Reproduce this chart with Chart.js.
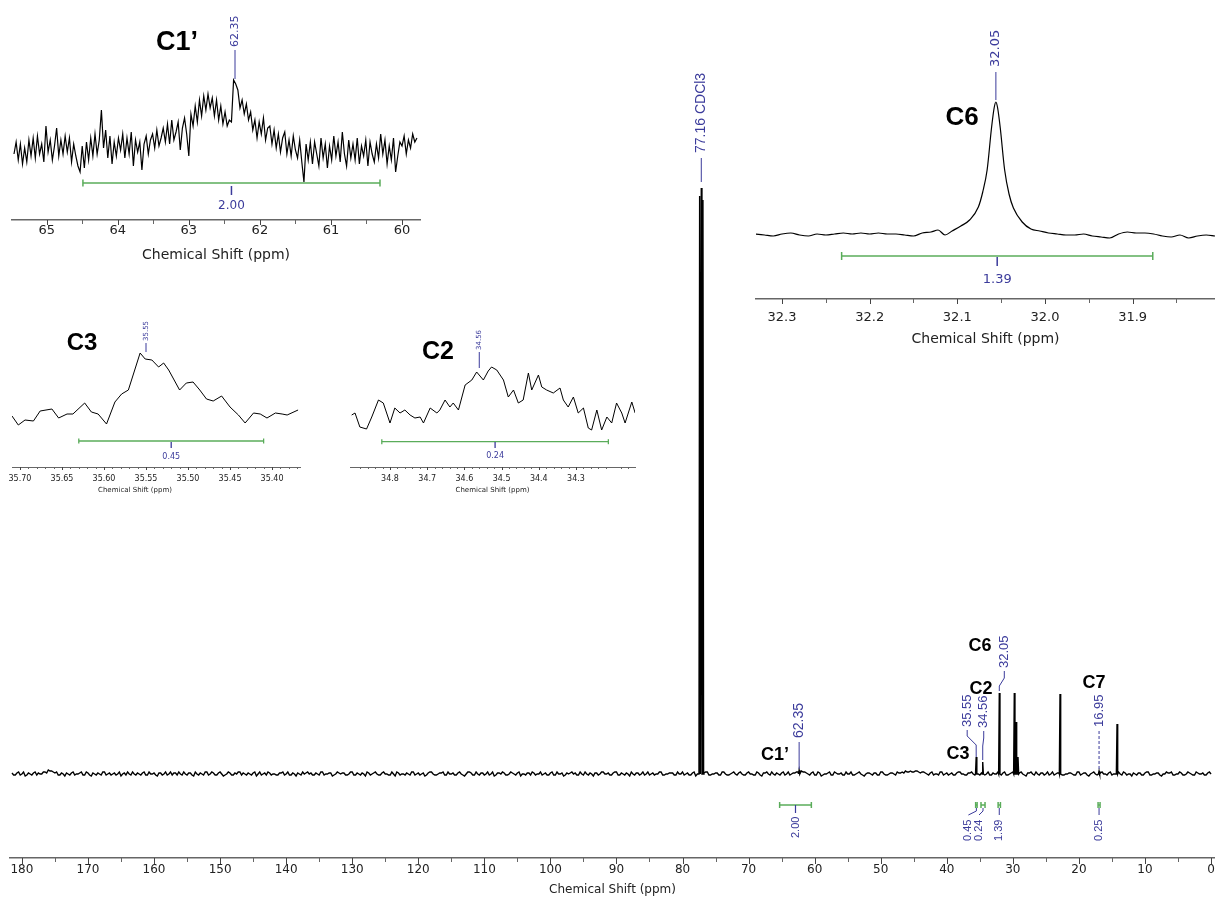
<!DOCTYPE html>
<html><head><meta charset="utf-8">
<script src="https://cdn.jsdelivr.net/npm/chart.js@4.4.0/dist/chart.umd.min.js"></script>
<style>
html,body{margin:0;padding:0;background:#fff;}
#wrap{position:relative;width:1215px;height:903px;overflow:hidden;background:#fff;}
.box{position:absolute;}
canvas{display:block;}
</style></head><body>
<div id="wrap">
<div class="box" style="left:0px;top:0px"><canvas id="main" width="1215" height="903"></canvas></div>
<div class="box" style="left:0px;top:0px"><canvas id="insA" width="425" height="270"></canvas></div>
<div class="box" style="left:750px;top:0px"><canvas id="insB" width="465" height="355"></canvas></div>
<div class="box" style="left:0px;top:300px"><canvas id="insC" width="305" height="200"></canvas></div>
<div class="box" style="left:340px;top:300px"><canvas id="insD" width="300" height="200"></canvas></div>
</div>
<script>
// ---------------- DATA ----------------
// Main 13C spectrum: baseline samples (every 0.5 ppm from 181.5 down to 0)
const mainNoiseStart = 181.5, mainNoiseStep = 0.5;
const mainNoise = [
 1,-1,2,0,-2,1,-1,2,1,0,2,4,3,1,-1,1,-2,0,1,-1,
 0,2,-1,1,-2,0,1,-1,2,0,-1,1,0,-2,1,2,-1,0,1,-1,
 2,-1,0,1,-2,1,0,-1,2,1,-1,0,2,-1,1,-2,0,1,-1,2,
 0,1,-1,2,-2,0,1,-1,0,2,1,-1,0,1,-2,2,0,-1,1,0,
 -1,1,2,0,-1,1,-2,0,2,1,0,-1,1,-1,2,0,1,-2,0,1,
 1,-1,0,2,-1,0,1,-2,1,0,2,-1,1,0,-1,2,-2,1,0,-1,
 0,2,-1,1,0,-2,1,2,-1,0,1,-1,2,0,-1,1,0,-2,2,1,
 -1,0,1,-1,2,0,-2,1,0,1,-1,2,0,1,-2,0,1,-1,1,0,
 2,0,-1,1,-1,2,0,-2,1,1,0,-1,2,-1,0,1,-2,1,0,2,
 0,-1,1,2,-1,0,1,-2,0,1,-1,2,0,-1,1,0,2,-1,0,1,
 1,-1,0,2,0,-1,1,-2,1,0,2,-1,0,1,-1,2,0,-1,1,0,
 1,0,-1,2,0,-1,1,-2,1,0,2,-1,0,1,-1,2,0,1,2,3,
 2,0,1,-1,2,-2,0,1,-1,2,0,1,-1,0,2,-1,1,0,-2,1,
 0,1,-1,2,0,-1,1,0,2,1,1,2,3,2,3,1,2,0,1,-1,
 0,2,-1,1,0,-1,1,2,0,-1,1,0,2,-1,1,0,-1,1,0,2,
 1,-1,0,2,-1,1,0,-2,1,0,2,-1,1,0,-1,2,0,1,-1,0,
 1,0,-1,2,0,1,-2,1,0,-1,2,0,1,-1,0,2,-1,1,0,-2,
 0,1,-1,1,2,-1,0,1,-2,0,1,2,-1,0,1,-1,2,0,-1,1,
 0,-1,1,0
];
// Baseline samples half-way between the ones above (x - 0.25 ppm)
const mainNoiseMid = [
 -1,1,-1,2,-1,0,1,-1,0,2,1,3,2,2,-1,0,1,-1,2,0,
 1,-1,2,-1,1,-1,0,2,-1,1,0,-1,2,0,-1,0,2,-1,0,1,
 -1,2,0,-1,1,-1,2,0,-1,1,2,-1,0,1,-1,2,-1,0,2,-1,
 2,-1,1,0,-1,2,-1,1,2,-1,0,1,-1,2,0,-1,1,2,-1,0,
 -1,1,-1,2,-1,0,1,-1,0,2,1,-1,0,2,-1,0,1,-1,2,0,
 1,-1,2,-1,1,-1,0,2,-1,1,0,-1,2,0,-1,0,2,-1,0,1,
 -1,2,0,-1,1,-1,2,0,-1,1,2,-1,0,1,-1,2,-1,0,2,-1,
 2,-1,1,0,-1,2,-1,1,2,-1,0,1,-1,2,0,-1,1,2,-1,0,
 -1,1,-1,2,-1,0,1,-1,0,2,1,-1,0,2,-1,0,1,-1,2,0,
 1,-1,2,-1,1,-1,0,2,-1,1,0,-1,2,0,-1,0,2,-1,0,1,
 -1,2,0,-1,1,-1,2,0,-1,1,2,-1,0,1,-1,2,-1,0,2,-1,
 2,-1,1,0,-1,2,-1,1,2,-1,0,1,-1,2,0,-1,1,2,3,2,
 1,-1,2,-1,1,-1,0,2,-1,1,0,-1,2,0,-1,0,2,-1,0,1,
 -1,1,-1,2,-1,0,1,-1,1,2,3,2,2,3,2,2,1,-1,2,0,
 -1,2,0,-1,1,-1,2,0,-1,1,2,-1,0,1,-1,2,-1,0,2,-1,
 2,-1,1,0,-1,2,-1,1,2,-1,0,1,-1,2,0,-1,1,2,-1,0,
 1,-1,2,-1,1,-1,0,2,-1,1,0,-1,2,0,-1,0,2,-1,0,1,
 -1,1,-1,2,-1,0,1,-1,0,2,1,-1,0,2,-1,0,1,-1,2,0,
 1,-1,2
];
const mainPeakPpm    = [77.41, 77.16, 76.91, 62.35, 35.55, 34.56, 32.05, 29.78, 29.52, 29.22, 22.86, 16.95, 14.23];
const mainPeakHeight = [578,   586,   574,   4,     17,    12,    81,    81,    52,    17,    80,    3,     50];
const mainTicks      = [180,170,160,150,140,130,120,110,100,90,80,70,60,50,40,30,20,10,0];
const mainMinorTicks = [175,165,155,145,135,125,115,105,95,85,75,65,55,45,35,25,15,5];
const peakLabelPpm   = [77.16, 62.35, 35.55, 34.56, 32.05, 16.95];
const peakLabelText  = ['77.16 CDCl3', '62.35', '35.55', '34.56', '32.05', '16.95'];
const integralFrom   = [65.3, 35.63, 34.82, 32.23, 17.10];
const integralTo     = [60.5, 35.41, 34.21, 31.88, 16.80];
const integralValue  = ['2.00', '0.45', '0.24', '1.39', '0.25'];
const carbonNames    = ['C1\u2019', 'C3', 'C2', 'C6', 'C7'];

// Inset C1' (65.46 -> 59.79 ppm, every 0.03 ppm)
const c1Start = 65.46, c1Step = 0.03;
const c1Trace = [
 -4,8,-10,6,-14,2,-12,10,-6,12,
 -8,14,-4,6,-12,24,-2,10,-10,4,
 22,-6,10,-4,14,-2,12,-12,6,-6,
 -16,-22,4,-18,8,-10,12,-6,16,-4,
 10,40,2,20,-8,14,-14,8,-6,12,
 0,16,-8,12,-4,18,-16,10,-2,8,
 -20,6,14,-4,10,16,2,20,4,12,
 22,8,26,6,30,10,18,28,0,22,
 32,16,-6,36,24,44,28,50,34,54,
 40,56,42,52,34,50,30,44,26,38,
 24,30,28,70,66,60,42,50,36,46,
 30,38,20,30,12,28,16,32,10,22,
 24,6,20,2,16,-2,12,18,-4,10,
 -6,14,0,-8,10,-12,-32,6,-10,8,
 -14,8,-4,-16,12,-8,6,-18,4,-10,
 14,-6,8,-12,18,-4,-16,10,-8,6,
 -10,12,-14,4,-6,10,-16,8,-4,-12,
 6,-8,16,-4,10,-14,4,-10,12,-22,
 -6,8,4,14,-4,10,2,16,8,12
];
const c1Ticks = [65,64,63,62,61,60];
const c1Minor = [64.5,63.5,62.5,61.5,60.5];

// Inset C6
const c6Ppm = [32.330,32.320,32.310,32.300,32.290,32.280,32.270,32.260,32.250,32.240,32.230,32.220,32.210,32.200,32.190,32.180,32.170,32.160,32.150,32.140,32.130,32.122,32.114,32.106,32.096,32.086,32.076,32.071,32.066,32.061,32.058,32.056,32.054,32.051,32.046,32.041,32.036,32.026,32.016,32.006,31.996,31.986,31.976,31.966,31.956,31.946,31.936,31.926,31.916,31.906,31.896,31.886,31.876,31.866,31.856,31.846,31.836,31.826,31.816,31.806];
const c6Int = [0,-1,-2,0,1,-1,-2,0,-1,0,1,0,1,0,1,0,0,-1,-2,1,2,4,-1,3,8,14,27,42,64,106,126,132,126,106,64,40,26,12,5,3,1,0,-1,-1,0,-2,-3,-4,0,2,1,1,0,-2,-3,-1,-4,-2,-1,-2];
const c6Ticks = [32.3,32.2,32.1,32.0,31.9];
const c6Minor = [32.25,32.15,32.05,31.95,31.85];

// Inset C3
const c3Ppm = [35.7095,35.702,35.694,35.684,35.676,35.662,35.654,35.644,35.637,35.623,35.615,35.607,35.597,35.587,35.579,35.571,35.557,35.551,35.543,35.535,35.529,35.523,35.510,35.502,35.494,35.486,35.478,35.470,35.460,35.450,35.440,35.432,35.422,35.414,35.406,35.396,35.388,35.382,35.369];
const c3Int = [1,-8,-3,-4,6,8,-1,3,3,14,5,3,-7,15,23,27,64,58,57,50,54,47,27,34,35,27,18,16,21,10,2,-6,4,3,-1,4,3,2,7];
const c3Ticks = [35.70,35.65,35.60,35.55,35.50,35.45,35.40];
const c3Minor = [35.69,35.68,35.67,35.66,35.64,35.63,35.62,35.61,35.59,35.58,35.57,35.56,35.54,35.53,35.52,35.51,35.49,35.48,35.47,35.46,35.44,35.43,35.42,35.41,35.39,35.38,35.37];

// Inset C2
const c2Ppm = [34.903,34.894,34.881,34.863,34.849,34.831,34.818,34.800,34.787,34.773,34.760,34.746,34.733,34.719,34.710,34.692,34.674,34.666,34.652,34.639,34.630,34.616,34.598,34.580,34.567,34.549,34.536,34.527,34.513,34.495,34.482,34.468,34.455,34.442,34.428,34.419,34.401,34.392,34.379,34.361,34.343,34.334,34.321,34.307,34.294,34.280,34.267,34.258,34.244,34.231,34.217,34.204,34.191,34.177,34.168,34.150,34.141];
const c2Int = [0,2,-12,-14,-2,15,12,-8,7,2,5,0,-3,-2,-8,7,2,5,15,8,12,5,30,35,43,35,44,48,45,35,18,25,12,15,42,25,40,28,25,22,27,15,8,18,2,7,-13,-15,5,-15,-2,-8,12,2,-8,13,2];
const c2Ticks = [34.8,34.7,34.6,34.5,34.4,34.3];
const c2Minor = [34.88,34.86,34.84,34.82,34.78,34.76,34.74,34.72,34.68,34.66,34.64,34.62,34.58,34.56,34.54,34.52,34.48,34.46,34.44,34.42,34.38,34.36,34.34,34.32,34.28,34.26,34.24,34.22,34.18,34.16];

// ---------------- HELPERS ----------------
const BLUE = '#3b3b9b', GREEN = '#5aac5a';
const AX = "'DejaVu Sans', Verdana, sans-serif";
const AR = "'Liberation Sans', Arial, sans-serif";
function vtext(ctx, s, x, yb, font, color){
  ctx.save(); ctx.translate(x, yb); ctx.rotate(-Math.PI/2);
  ctx.font = font; ctx.fillStyle = color; ctx.textAlign = 'left'; ctx.textBaseline = 'middle';
  ctx.fillText(s, 0, 0); ctx.restore();
}
function htext(ctx, s, x, y, font, color){
  ctx.save(); ctx.font = font; ctx.fillStyle = color; ctx.textAlign = 'center'; ctx.textBaseline = 'middle';
  ctx.fillText(s, x, y); ctx.restore();
}
function poly(ctx, pts, color, w, dash){
  ctx.save(); ctx.beginPath(); ctx.strokeStyle = color; ctx.lineWidth = w; ctx.setLineDash(dash || []);
  pts.forEach((p, i) => i ? ctx.lineTo(p[0], p[1]) : ctx.moveTo(p[0], p[1]));
  ctx.stroke(); ctx.restore();
}
function drawTicks(chart, major, minor, lmaj, lmin){
  const s = chart.scales.x, y0 = chart.chartArea.bottom, ctx = chart.ctx;
  major.forEach(v => { const x = Math.round(s.getPixelForValue(v)) + 0.5; poly(ctx, [[x, y0], [x, y0 + lmaj]], '#444', 1); });
  minor.forEach(v => { const x = Math.round(s.getPixelForValue(v)) + 0.5; poly(ctx, [[x, y0], [x, y0 + lmin]], '#666', 1); });
}
function integral(ctx, x1, x2, y, cap, w){
  poly(ctx, [[x1, y], [x2, y]], GREEN, w);
  poly(ctx, [[x1, y - cap], [x1, y + cap]], GREEN, w);
  poly(ctx, [[x2, y - cap], [x2, y + cap]], GREEN, w);
}

function makeChart(id, cfg){
  return new Chart(document.getElementById(id), {
    type: 'line',
    data: { datasets: [{ data: cfg.data, borderColor: '#000', borderWidth: cfg.lw, pointRadius: 0, tension: cfg.smooth ? 0.4 : 0,
                         cubicInterpolationMode: cfg.smooth ? 'monotone' : 'default', fill: false }] },
    options: {
      responsive: false, animation: false, events: [],
      layout: { padding: cfg.pad },
      plugins: { legend: { display: false }, tooltip: { enabled: false } },
      scales: {
        x: {
          type: 'linear', reverse: true, min: cfg.xmin, max: cfg.xmax,
          grid: { display: false, drawTicks: false },
          border: { display: true, color: '#666', width: cfg.axisW },
          ticks: { padding: cfg.tickPad, font: { family: AX, size: cfg.tickSize }, color: '#222', maxRotation: 0, autoSkip: false, callback: v => cfg.fmt(v) },
          afterBuildTicks: s => { s.ticks = cfg.ticks.map(v => ({ value: v })); },
          afterFit: s => { s.height = cfg.axisH; s.paddingLeft = 0; s.paddingRight = 0; },
          title: { display: cfg.showTitle, text: 'Chemical Shift (ppm)', font: { family: AX, size: cfg.titleSize }, color: '#222', padding: { top: 0, bottom: cfg.titlePad } }
        },
        y: { display: false, min: cfg.ymin, max: cfg.ymax }
      }
    },
    plugins: [{
      id: 'bg', beforeDraw(chart){ if (cfg.bg){ const c = chart.ctx; c.save(); c.fillStyle = '#fff'; c.fillRect(0, 0, chart.width, chart.height); c.restore(); } }
    }, { id: 'anno', afterDraw: cfg.draw }]
  });
}

// ---------------- MAIN ----------------
function buildMain(){
  const pts = [];
  const nearPeak = x => mainPeakPpm.some(p => Math.abs(p - x) < 0.12);
  for (let i = 0; i < mainNoise.length; i++){
    const x = mainNoiseStart - i * mainNoiseStep;
    if (!nearPeak(x)) pts.push({ x: x, y: mainNoise[i] });
    if (i < mainNoiseMid.length){
      const xm = x - mainNoiseStep / 2;
      if (!nearPeak(xm)) pts.push({ x: xm, y: mainNoiseMid[i] });
    }
  }
  mainPeakPpm.forEach((p, k) => {
    pts.push({ x: p + 0.1, y: 0 });
    pts.push({ x: p, y: mainPeakHeight[k] });
    pts.push({ x: p - 0.1, y: 0 });
  });
  pts.sort((a, b) => b.x - a.x);
  return pts;
}

makeChart('main', {
  data: buildMain(), lw: 1.4, bg: true,
  pad: { left: 10, right: 0, top: 10, bottom: 0 },
  xmin: -0.6, xmax: 181.8, ymin: -84, ymax: 764,
  axisW: 1.5, axisH: 45, tickPad: 5, tickSize: 12, titleSize: 12, titlePad: 6, showTitle: true,
  ticks: mainTicks, fmt: v => String(v),
  draw(chart){
    const ctx = chart.ctx, s = chart.scales.x, sx = v => s.getPixelForValue(v);
    drawTicks(chart, mainTicks, mainMinorTicks, 6, 4);
    const F14 = '14px ' + AR, F13 = '13px ' + AR, F11 = '11px ' + AR;
    // peak labels
    let x = sx(peakLabelPpm[0]);
    vtext(ctx, peakLabelText[0], x, 153, F14, BLUE);
    poly(ctx, [[x, 158], [x, 182]], BLUE, 1);
    x = sx(peakLabelPpm[1]);
    vtext(ctx, peakLabelText[1], x, 738, F14, BLUE);
    poly(ctx, [[x, 742], [x, 769]], BLUE, 1);
    x = sx(peakLabelPpm[2]);
    vtext(ctx, peakLabelText[2], x - 9, 727, F13, BLUE);
    poly(ctx, [[x - 9, 730], [x - 9, 736], [x, 745], [x, 757]], BLUE, 1);
    x = sx(peakLabelPpm[3]);
    vtext(ctx, peakLabelText[3], x + 1, 728, F13, BLUE);
    poly(ctx, [[x + 1, 731], [x + 1, 738], [x, 746], [x, 760]], BLUE, 1);
    x = sx(peakLabelPpm[4]);
    vtext(ctx, peakLabelText[4], x + 5, 668, F13, BLUE);
    poly(ctx, [[x + 5, 671], [x + 5, 678], [x, 686], [x, 691]], BLUE, 1);
    x = sx(peakLabelPpm[5]);
    vtext(ctx, peakLabelText[5], x, 727, F13, BLUE);
    poly(ctx, [[x, 731], [x, 769]], BLUE, 1, [3, 2]);
    // carbon labels
    const FB = 'bold 18px ' + AR;
    htext(ctx, carbonNames[0], 775, 755, FB, '#000');
    htext(ctx, carbonNames[1], 958, 754, FB, '#000');
    htext(ctx, carbonNames[2], 981, 689, FB, '#000');
    htext(ctx, carbonNames[3], 980, 646, FB, '#000');
    htext(ctx, carbonNames[4], 1094, 683, FB, '#000');
    // integrals
    const offs = [0, -8, -4, 0, 0];
    integralFrom.forEach((f, i) => {
      const x1 = sx(f), x2 = sx(integralTo[i]), xc = (x1 + x2) / 2;
      integral(ctx, x1, x2, 805, 3, 1.5);
      const xt = xc + offs[i];
      if (i === 0) poly(ctx, [[xc, 805], [xc, 813]], BLUE, 1.2);
      else poly(ctx, [[xc, 808], [xc, 811], [xt, 815]], BLUE, 1);
      vtext(ctx, integralValue[i], xt, i === 0 ? 838 : 841, F11, BLUE);
    });
  }
});

// ---------------- INSET C1' ----------------
makeChart('insA', {
  data: c1Trace.map((v, i) => ({ x: c1Start - i * c1Step, y: v })), lw: 1.2,
  pad: { left: 12, right: 5, top: 5, bottom: 0 },
  xmin: 59.747, xmax: 65.488, ymin: -70, ymax: 145,
  axisW: 1.5, axisH: 50, tickPad: 3, tickSize: 13, titleSize: 14, titlePad: 6, showTitle: true,
  ticks: c1Ticks, fmt: v => String(v),
  draw(chart){
    const ctx = chart.ctx, s = chart.scales.x, sx = v => s.getPixelForValue(v);
    drawTicks(chart, c1Ticks, c1Minor, 5, 4);
    const xp = sx(62.35);
    vtext(ctx, '62.35', xp, 47, '11px ' + AX, BLUE);
    poly(ctx, [[xp, 50], [xp, 79]], BLUE, 1);
    htext(ctx, 'C1\u2019', 177, 43, 'bold 27px ' + AR, '#000');
    const x1 = sx(64.49), x2 = sx(60.31), xc = (x1 + x2) / 2;
    integral(ctx, x1, x2, 183, 3.5, 1.5);
    poly(ctx, [[xc, 186], [xc, 195]], BLUE, 1.5);
    htext(ctx, '2.00', xc, 206, '12px ' + AX, BLUE);
  }
});

// ---------------- INSET C6 ----------------
makeChart('insB', {
  data: c6Ppm.map((p, i) => ({ x: p, y: c6Int[i] })), lw: 1.2, smooth: true,
  pad: { left: 6, right: 0, top: 5, bottom: 0 },
  xmin: 31.806, xmax: 32.3297, ymin: -65, ymax: 229,
  axisW: 1.5, axisH: 56, tickPad: 11, tickSize: 13, titleSize: 14, titlePad: 7, showTitle: true,
  ticks: c6Ticks, fmt: v => v.toFixed(1),
  draw(chart){
    const ctx = chart.ctx, s = chart.scales.x, sx = v => s.getPixelForValue(v);
    drawTicks(chart, c6Ticks, c6Minor, 5, 4);
    const xp = sx(32.056);
    vtext(ctx, '32.05', xp, 67, '13px ' + AX, BLUE);
    poly(ctx, [[xp, 72], [xp, 100]], BLUE, 1);
    htext(ctx, 'C6', 212, 118, 'bold 26px ' + AR, '#000');
    const x1 = sx(32.232), x2 = sx(31.877), xc = (x1 + x2) / 2;
    integral(ctx, x1, x2, 256, 4, 1.5);
    poly(ctx, [[xc, 257], [xc, 266]], BLUE, 1.5);
    htext(ctx, '1.39', xc, 280, '13px ' + AX, BLUE);
  }
});

// ---------------- INSET C3 ----------------
makeChart('insC', {
  data: c3Ppm.map((p, i) => ({ x: p, y: c3Int[i] })), lw: 1,
  pad: { left: 12, right: 5, top: 2, bottom: 0 },
  xmin: 35.3667, xmax: 35.7095, ymin: -50, ymax: 115,
  axisW: 1, axisH: 33, tickPad: 7, tickSize: 8, titleSize: 7, titlePad: 6, showTitle: false,
  ticks: c3Ticks, fmt: v => v.toFixed(2),
  draw(chart){
    const ctx = chart.ctx, s = chart.scales.x, sx = v => s.getPixelForValue(v);
    drawTicks(chart, c3Ticks, c3Minor, 3, 2);
    const xp = sx(35.55);
    vtext(ctx, '35.55', xp, 41, '7px ' + AX, BLUE);
    poly(ctx, [[xp, 43], [xp, 52]], BLUE, 1);
    htext(ctx, 'C3', 82, 43, 'bold 24px ' + AR, '#000');
    const x1 = sx(35.630), x2 = sx(35.410), xc = (x1 + x2) / 2;
    integral(ctx, x1, x2, 141, 2.5, 1.3);
    poly(ctx, [[xc, 142], [xc, 148]], BLUE, 1.3);
    htext(ctx, '0.45', xc, 157, '8px ' + AX, BLUE);
    htext(ctx, 'Chemical Shift (ppm)', 135, 190, '7px ' + AX, '#222');
  }
});

// ---------------- INSET C2 ----------------
makeChart('insD', {
  data: c2Ppm.map((p, i) => ({ x: p, y: c2Int[i] })), lw: 1,
  pad: { left: 10, right: 5, top: 2, bottom: 0 },
  xmin: 34.1414, xmax: 34.9075, ymin: -52, ymax: 113,
  axisW: 1, axisH: 33, tickPad: 7, tickSize: 8, titleSize: 7, titlePad: 6, showTitle: true,
  ticks: c2Ticks, fmt: v => v.toFixed(1),
  draw(chart){
    const ctx = chart.ctx, s = chart.scales.x, sx = v => s.getPixelForValue(v);
    drawTicks(chart, c2Ticks, c2Minor, 3, 2);
    const xp = sx(34.56);
    vtext(ctx, '34.56', xp, 50, '7px ' + AX, BLUE);
    poly(ctx, [[xp, 52], [xp, 68]], BLUE, 1);
    htext(ctx, 'C2', 98, 52, 'bold 25px ' + AR, '#000');
    const x1 = sx(34.822), x2 = sx(34.213), xc = (x1 + x2) / 2;
    integral(ctx, x1, x2, 141.7, 2.5, 1.3);
    poly(ctx, [[xc, 142], [xc, 148]], BLUE, 1.3);
    htext(ctx, '0.24', xc, 156, '8px ' + AX, BLUE);
  }
});
</script>
</body></html>
